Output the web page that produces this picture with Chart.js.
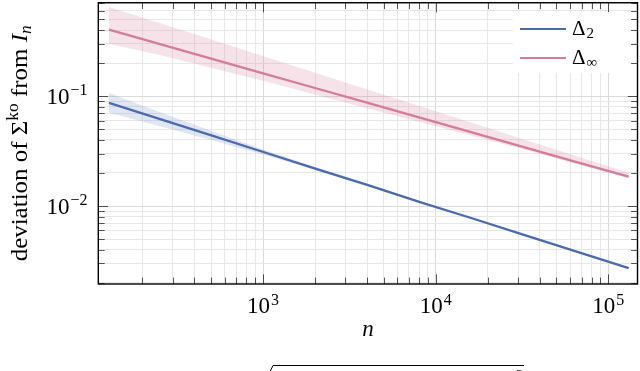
<!DOCTYPE html>
<html>
<head>
<meta charset="utf-8">
<script src="https://cdn.jsdelivr.net/npm/chart.js@4.4.1/dist/chart.umd.min.js"></script>
<style>
  html, body { margin: 0; padding: 0; background: #fff; }
  canvas { display: block; }
</style>
</head>
<body>
<canvas id="devChart" width="640" height="371"></canvas>
<script>
// sample sizes n (powers of two)
const nValues = [128, 256, 512, 1024, 2048, 4096, 8192, 16384, 32768, 65536, 131072];

// Delta_2: mean and band
const delta2Mean  = [0.087, 0.0614, 0.0435, 0.0307, 0.0217, 0.0154, 0.0108, 0.0077, 0.00543, 0.00384, 0.00272];
const delta2Upper = [0.107, 0.0711, 0.0478, 0.0324, 0.0224, 0.0157, 0.0110, 0.0078, 0.00548, 0.00388, 0.00274];
const delta2Lower = [0.0705, 0.0531, 0.0395, 0.0292, 0.0211, 0.0150, 0.0107, 0.0076, 0.00537, 0.00380, 0.00269];

// Delta_inf: mean and band
const deltaInfMean  = [0.404, 0.296, 0.218, 0.160, 0.1175, 0.0863, 0.0634, 0.0466, 0.0342, 0.0251, 0.0185];
const deltaInfUpper = [0.648, 0.458, 0.324, 0.229, 0.1615, 0.114, 0.0806, 0.0569, 0.0402, 0.0284, 0.0201];
const deltaInfLower = [0.301, 0.236, 0.180, 0.137, 0.1026, 0.0769, 0.0578, 0.0433, 0.0325, 0.0241, 0.0179];

// axis ticks: labelled decades and the mantissas used for minor grid lines
const xMajorTicks = [1e3, 1e4, 1e5];
const xTickExps = ['3', '4', '5'];
const yMajorTicks = [0.1, 0.01];
const yTickExps = ['\u22121', '\u22122'];
const mantissas = [1, 2, 3, 4, 5, 6, 7, 8, 9];

// legend text
const legendMain = ['\u0394', '\u0394'];
const legendSub = ['2', '\u221E'];

const BLUE = '#4a6bb0';
const PINK = '#d67b9a';
const SERIF = '"Liberation Serif", "DejaVu Serif", serif';

const X_MIN = 111, X_MAX = 147500;
const Y_MIN = 0.00195, Y_MAX = 0.71;

function pts(ys) {
    return nValues.map((n, i) => ({ x: n, y: ys[i] }));
}

// build log ticks (all mantissas of every decade inside [min, max])
function logTicks(min, max) {
    const list = [];
    const lo = Math.floor(Math.log10(min)), hi = Math.ceil(Math.log10(max));
    for (let e = lo; e <= hi; e++) {
        mantissas.forEach(m => {
            const v = +(m * Math.pow(10, e)).toPrecision(6);
            if (v >= min && v <= max) list.push({ value: v, major: m === 1 });
        });
    }
    return list;
}

// 10^k label with a raised exponent
function drawPow(ctx, x, baseY, exp, align) {
    ctx.font = '23px ' + SERIF;
    const w10 = ctx.measureText('10').width;
    ctx.font = '16px ' + SERIF;
    const wExp = ctx.measureText(exp).width;
    const total = w10 + 1 + wExp;
    const start = align === 'right' ? x - total : x - total / 2;
    ctx.textAlign = 'left';
    ctx.textBaseline = 'alphabetic';
    ctx.font = '23px ' + SERIF;
    ctx.fillText('10', start, baseY);
    ctx.font = '16px ' + SERIF;
    ctx.fillText(exp, start + w10 + 1, baseY - 8.5);
}

const pgfDecor = {
    id: 'pgfDecor',
    afterDraw(chart) {
        const ctx = chart.ctx;
        const area = chart.chartArea;
        const xs = chart.scales.x, ys = chart.scales.y;
        ctx.save();
        ctx.fillStyle = '#000';

        // inward tick marks on all four sides
        ctx.strokeStyle = 'rgba(0,0,0,0.65)';
        ctx.lineWidth = 1;
        ctx.beginPath();
        xs.ticks.forEach(t => {
            const px = Math.round(xs.getPixelForValue(t.value)) + 0.5;
            const len = t.major ? 9.7 : 6.4;
            ctx.moveTo(px, area.bottom); ctx.lineTo(px, area.bottom - len);
            ctx.moveTo(px, area.top); ctx.lineTo(px, area.top + len);
        });
        ys.ticks.forEach(t => {
            const py = Math.round(ys.getPixelForValue(t.value)) + 0.5;
            const len = t.major ? 9.7 : 6.4;
            ctx.moveTo(area.left, py); ctx.lineTo(area.left + len, py);
            ctx.moveTo(area.right, py); ctx.lineTo(area.right - len, py);
        });
        ctx.stroke();

        // legend
        const lx = 513, ly = 12;
        ctx.fillStyle = '#fff';
        ctx.fillRect(lx, ly, 118, 61);
        const legendColors = [BLUE, PINK];
        legendMain.forEach((txt, i) => {
            const cy = 29 + i * 29;
            ctx.strokeStyle = legendColors[i];
            ctx.lineWidth = 2.2;
            ctx.beginPath();
            ctx.moveTo(520, cy); ctx.lineTo(566, cy);
            ctx.stroke();
            ctx.fillStyle = '#000';
            ctx.textAlign = 'left';
            ctx.textBaseline = 'alphabetic';
            ctx.font = '21px ' + SERIF;
            ctx.fillText(txt, 572, cy + 5.5);
            const wd = ctx.measureText(txt).width;
            ctx.font = '15px ' + SERIF;
            ctx.fillText(legendSub[i], 572 + wd + 1, cy + 9);
        });

        // frame
        ctx.strokeStyle = '#000';
        ctx.lineWidth = 1.4;
        ctx.strokeRect(area.left, area.top, area.right - area.left, area.bottom - area.top);

        // tick labels
        ctx.fillStyle = '#000';
        xMajorTicks.forEach((v, i) => {
            drawPow(ctx, xs.getPixelForValue(v), 313, xTickExps[i], 'center');
        });
        yMajorTicks.forEach((v, i) => {
            drawPow(ctx, 87.5, ys.getPixelForValue(v) + 7.5, yTickExps[i], 'right');
        });

        // x axis title
        ctx.font = 'italic 23px ' + SERIF;
        ctx.textAlign = 'center';
        ctx.fillText('n', (area.left + area.right) / 2, 336);

        // y axis title, rotated; stretched a little to the length of the original
        ctx.save();
        ctx.translate(27, (area.top + area.bottom) / 2);
        ctx.rotate(-Math.PI / 2);
        const parts = [
            { t: 'deviation of \u03A3', f: '23px ', dy: 0 },
            { t: 'ko', f: '16px ', dy: -9.5 },
            { t: ' from ', f: '23px ', dy: 0 },
            { t: 'I', f: 'italic 23px ', dy: 0 },
            { t: 'n', f: 'italic 16px ', dy: 4 }
        ];
        let total = 0;
        parts.forEach(p => { ctx.font = p.f + SERIF; p.w = ctx.measureText(p.t).width; total += p.w; });
        ctx.scale(236 / total, 1);
        let cx = -total / 2;
        ctx.textAlign = 'left';
        parts.forEach(p => {
            ctx.font = p.f + SERIF;
            ctx.fillText(p.t, cx, p.dy);
            cx += p.w;
        });
        ctx.restore();

        // start of the formula below the figure (cut off by the frame of the image)
        ctx.strokeStyle = '#000';
        ctx.lineWidth = 1;
        ctx.beginPath();
        ctx.moveTo(268, 376); ctx.lineTo(273, 365.5); ctx.lineTo(524, 365.5);
        ctx.stroke();
        ctx.font = '15px ' + SERIF;
        ctx.textAlign = 'left';
        ctx.fillText('2', 516, 380);

        ctx.restore();
    }
};

function band(data, fill, color) {
    return {
        data: pts(data), fill: fill, backgroundColor: color, borderWidth: 0,
        pointRadius: 0, tension: 0, order: 2
    };
}

const gridColor = c => (c.tick && c.tick.major) ? '#dadada' : '#e8e8e8';

new Chart(document.getElementById('devChart'), {
    type: 'line',
    data: {
        datasets: [
            band(delta2Upper, '+1', 'rgba(74,107,176,0.17)'),
            band(delta2Lower, false, 'rgba(0,0,0,0)'),
            band(deltaInfUpper, '+1', 'rgba(214,123,154,0.22)'),
            band(deltaInfLower, false, 'rgba(0,0,0,0)'),
            { label: '\u0394\u2082', data: pts(delta2Mean), borderColor: BLUE, borderWidth: 2.3,
              pointRadius: 0, fill: false, tension: 0, order: 1 },
            { label: '\u0394\u221E', data: pts(deltaInfMean), borderColor: PINK, borderWidth: 2.3,
              pointRadius: 0, fill: false, tension: 0, order: 1 }
        ]
    },
    options: {
        responsive: false,
        animation: false,
        devicePixelRatio: 1,
        layout: { padding: { top: 2.7, right: 2.5, left: 0, bottom: 0 } },
        plugins: { legend: { display: false }, tooltip: { enabled: false } },
        scales: {
            x: {
                type: 'logarithmic', position: 'bottom', min: X_MIN, max: X_MAX,
                afterBuildTicks: s => { s.ticks = logTicks(X_MIN, X_MAX); },
                afterFit: s => { s.height = 87; },
                ticks: { display: false },
                border: { display: false },
                grid: { color: gridColor, lineWidth: 1, drawTicks: false }
            },
            y: {
                type: 'logarithmic', position: 'left', min: Y_MIN, max: Y_MAX,
                afterBuildTicks: s => { s.ticks = logTicks(Y_MIN, Y_MAX); },
                afterFit: s => { s.width = 98.3; },
                ticks: { display: false },
                border: { display: false },
                grid: { color: gridColor, lineWidth: 1, drawTicks: false }
            }
        }
    },
    plugins: [pgfDecor]
});
</script>
</body>
</html>
